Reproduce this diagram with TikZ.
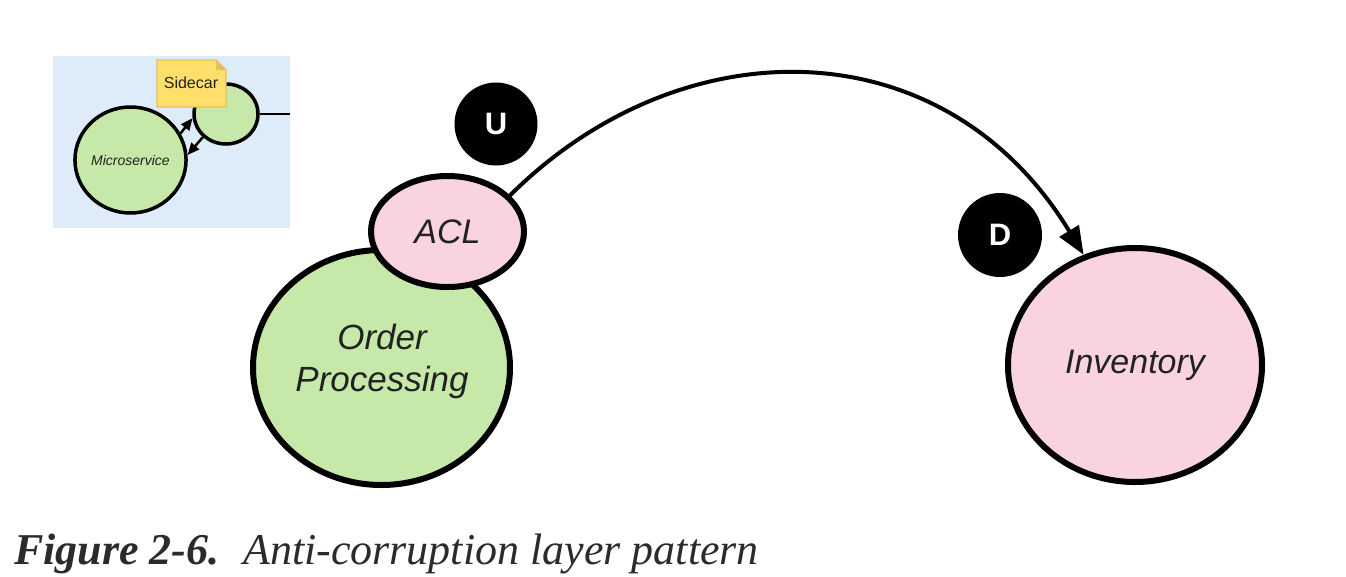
\documentclass[tikz,border=0pt]{standalone}
\usepackage{fontspec}
\setmainfont{Liberation Serif}
\newfontfamily\arial{Liberation Sans}
\usetikzlibrary{shapes.geometric,arrows.meta}
\definecolor{insetbg}{HTML}{DEEBF8}
\definecolor{grn}{HTML}{C6E8A9}
\definecolor{pnk}{HTML}{F9D3DF}
\definecolor{ylw}{HTML}{FFDF6B}
\definecolor{ylwline}{HTML}{E5C15A}
\definecolor{txt}{HTML}{222222}
\definecolor{captxt}{HTML}{2B2B2B}
\tikzset{
  bigshape/.style={ellipse, draw=black, line width=6pt, inner sep=0pt, text=txt, align=center},
  smallshape/.style={ellipse, draw=black, line width=3.5pt, inner sep=0pt, text=txt, fill=grn},
  badge/.style={circle, fill=black, inner sep=0pt, text=white, font=\arial\bfseries\fontsize{31}{33}\selectfont},
  insetarrow/.style={line width=2.5pt, -{Triangle[length=12pt,width=10pt]}},
  mainarrow/.style={line width=4pt, -{Triangle[length=28pt,width=22pt]}},
}
\begin{document}
\begin{tikzpicture}[x=1pt,y=-1pt]
\useasboundingbox (0,0) rectangle (1346,576);
\fill[white] (0,0) rectangle (1346,576);

% inset
\fill[insetbg] (53,56) rectangle (290,228);
\node[smallshape, minimum width=64pt, minimum height=60pt] (sc) at (226,114) {};
\coordinate (insetedge) at (290,114);
\draw[line width=2.5pt] (sc.east) -- (insetedge);
\node[smallshape, minimum width=105pt, minimum height=106pt, font=\arial\itshape\fontsize{14}{16}\selectfont] (ms) at (130.5,160) {Microservice};
\draw[insetarrow] (ms.28) -- (sc.187);
\draw[insetarrow] (sc.225) -- (ms.5);
\fill[ylw, draw=ylwline, line width=1.2pt] (157,60) -- (216,60) -- (226,70) -- (226,107) -- (157,107) -- cycle;
\fill[ylwline] (216,60) -- (216,70) -- (226,70) -- cycle;
\node[text=txt, font=\arial\fontsize{16}{18}\selectfont, inner sep=0pt] (note) at (191,83) {Sidecar};

% main
\node[bigshape, fill=grn, minimum width=257pt, minimum height=235pt] (op) at (381.5,367.5) {};
\node[text=txt, align=center, font=\arial\itshape\fontsize{35}{42}\selectfont, inner sep=0pt] (optext) at (382,361) {Order\\Processing};
\node[bigshape, fill=pnk, minimum width=153pt, minimum height=111pt, font=\arial\itshape\fontsize{34}{40}\selectfont] (acl) at (447.5,231.5) {ACL};
\node[bigshape, fill=pnk, minimum width=254pt, minimum height=234pt, font=\arial\itshape\fontsize{34}{40}\selectfont] (inv) at (1135,365) {Inventory};
\node[badge, minimum size=83pt] (u) at (496,124) {U};
\node[badge, minimum size=84pt] (d) at (1000,235) {D};

\draw[mainarrow] (acl.30) .. controls (681,25) and (944,25) .. (inv.115);

% caption
\node[anchor=base west, inner sep=0pt, text=captxt, font=\bfseries\itshape\fontsize{44}{50}\selectfont] (figno) at (14,564) {Figure 2-6.};
\node[anchor=base west, inner sep=0pt, text=captxt, font=\itshape\fontsize{44}{50}\selectfont] (figcap) at (243,564) {Anti-corruption layer pattern};
\end{tikzpicture}
\end{document}
